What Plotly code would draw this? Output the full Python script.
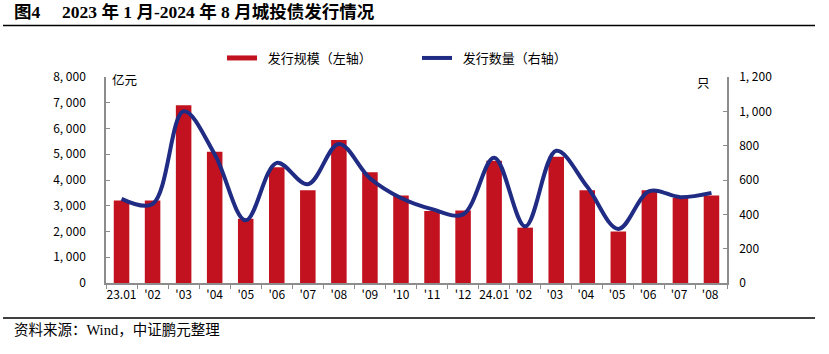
import plotly.graph_objects as go

categories = ["23.01", "'02", "'03", "'04", "'05", "'06", "'07", "'08", "'09", "'10",
              "'11", "'12", "24.01", "'02 ", "'03 ", "'04 ", "'05 ", "'06 ", "'07 ", "'08 "]
issue_amount = [3200, 3200, 6900, 5100, 2500, 4500, 3600, 5550, 4300, 3400,
                2800, 2820, 4750, 2150, 4900, 3600, 2000, 3600, 3300, 3400]
issue_count = [490, 460, 1000, 750, 365, 700, 575, 810, 610, 495,
               430, 400, 730, 330, 770, 560, 315, 535, 500, 525]
left_ticks = [0, 1000, 2000, 3000, 4000, 5000, 6000, 7000, 8000]
left_ticktext = ["0", "1, 000", "2, 000", "3, 000", "4, 000", "5, 000", "6, 000", "7, 000", "8, 000"]
right_ticks = [0, 200, 400, 600, 800, 1000, 1200]
right_ticktext = ["0", "200", "400", "600", "800", "1, 000", "1, 200"]

RED = "#C2121F"
NAVY = "#202B83"
AXIS = "#8C8C8C"
CJK = "Noto Sans CJK SC"

fig = go.Figure()
fig.add_trace(go.Bar(x=categories, y=issue_amount, marker=dict(color=RED, line=dict(width=0)),
                     width=0.5, showlegend=False, yaxis="y"))
fig.add_trace(go.Scatter(x=[None], y=[None], mode="lines", line=dict(color=RED, width=5),
                         name="\u00a0\u00a0发行规模（左轴）", yaxis="y"))
fig.add_trace(go.Scatter(x=categories, y=issue_count, mode="lines",
                         line=dict(color=NAVY, width=4, shape="spline", smoothing=1.0),
                         name="\u00a0\u00a0发行数量（右轴）", yaxis="y2"))

W, H = 829, 354
L, R, T, B = 106, 727, 77, 283
pw, ph = R - L, B - T

def px(x):
    return (x - L) / pw

def py(y):
    return (B - y) / ph

fig.update_layout(
    width=W, height=H,
    margin=dict(l=L, r=W - R, t=T, b=H - B),
    paper_bgcolor="white", plot_bgcolor="white",
    font=dict(family=CJK, size=12, color="black"),
    bargap=0.5,
    xaxis=dict(type="category", showline=True, linecolor=AXIS, linewidth=1.5,
               ticks="outside", ticklen=4, tickcolor=AXIS, tickson="boundaries",
               tickfont=dict(size=12, family=CJK), tickangle=0, showgrid=False, zeroline=False,
               range=[-0.5, 19.5], fixedrange=True),
    yaxis=dict(range=[0, 8000], tickvals=left_ticks, ticktext=left_ticktext,
               showline=True, linecolor=AXIS, linewidth=1.5, ticks="inside", ticklen=4,
               tickcolor=AXIS, showgrid=False, zeroline=False, tickfont=dict(size=12, family=CJK),
               ticklabelstandoff=16),
    yaxis2=dict(range=[0, 1200], tickvals=right_ticks, ticktext=right_ticktext,
                overlaying="y", side="right", showline=True, linecolor=AXIS, linewidth=1.5,
                ticks="inside", ticklen=4, tickcolor=AXIS, showgrid=False, zeroline=False,
                tickfont=dict(size=12, family=CJK), ticklabelstandoff=8),
    legend=dict(orientation="h", x=px(222), xanchor="left", y=py(58), yanchor="middle",
                font=dict(size=13, family=CJK), itemwidth=30, entrywidth=150,
                bgcolor="rgba(0,0,0,0)"),
    showlegend=True,
)

fig.add_annotation(text="<b>图4　 2023 年 1 月-2024 年 8 月城投债发行情况</b>", xref="paper", yref="paper",
                   x=px(12), y=py(12), xanchor="left", yanchor="middle", showarrow=False,
                   font=dict(size=17.5, family="Liberation Serif, " + CJK, color="black"))
fig.add_annotation(text="资料来源：<span style='font-family:Liberation Serif'>Wind</span>，中证鹏元整理",
                   xref="paper", yref="paper",
                   x=px(12), y=py(328), xanchor="left", yanchor="middle", showarrow=False,
                   font=dict(size=14.5, family=CJK, color="black"))
fig.add_annotation(text="亿元", xref="paper", yref="paper", x=px(110), y=py(79),
                   xanchor="left", yanchor="middle", showarrow=False, font=dict(size=12.5, family=CJK))
fig.add_annotation(text="只", xref="paper", yref="paper", x=px(703), y=py(82),
                   xanchor="center", yanchor="middle", showarrow=False, font=dict(size=12.5, family=CJK))

fig.add_shape(type="line", xref="paper", yref="paper", x0=px(3), x1=px(815), y0=py(25.5), y1=py(25.5),
              line=dict(color="black", width=1.5))
fig.add_shape(type="line", xref="paper", yref="paper", x0=px(3), x1=px(815), y0=py(318), y1=py(318),
              line=dict(color="black", width=1.5))

fig.write_html("out.html")
